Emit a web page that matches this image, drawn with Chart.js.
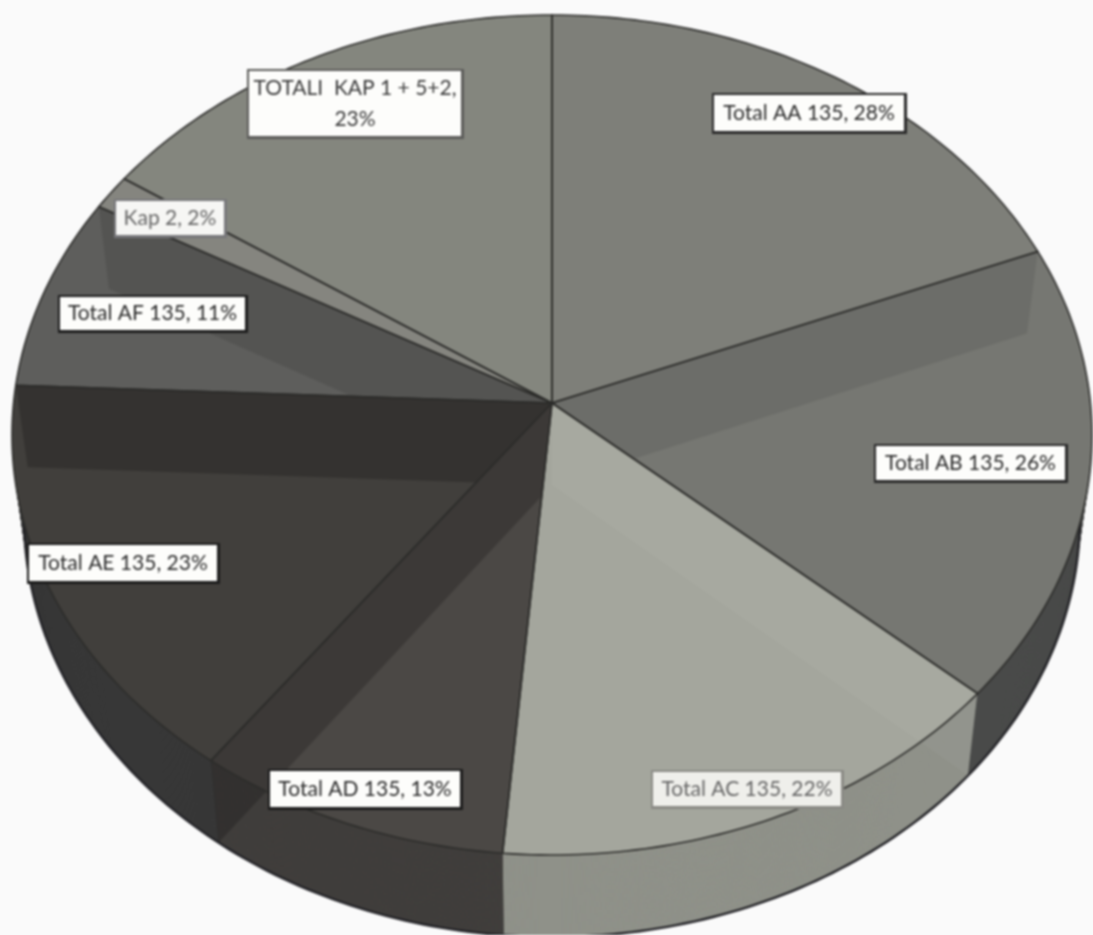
<!DOCTYPE html>
<html>
<head>
<meta charset="utf-8">
<title>Total</title>
<script src="https://cdn.jsdelivr.net/npm/chart.js@4"></script>
<style>
    html, body { margin: 0; padding: 0; background: #fafafa; overflow: hidden; }
    #pie { display: block; width: 1093px; height: 935px; filter: blur(0.8px); }
</style>
</head>
<body>
<canvas id="pie" width="1093" height="935"></canvas>
<script>
const categories = ['Total AA 135', 'Total AB 135', 'Total AC 135', 'Total AD 135', 'Total AE 135', 'Total AF 135', 'Kap 2', 'TOTALI  KAP 1 + 5+2'];
const percents = [28, 26, 22, 13, 23, 11, 2, 23];

const topColors = ['#7e7f79', '#767772', '#a4a69d', '#4b4845', '#413f3c', '#5e5e5c', '#85857f', '#84867e'];
const sideColors = ['#5a5a58', '#494a49', '#8f9189', '#403e3c', '#373737', '#444444', '#555555', '#5a5a58'];
// wall seen through the top face below each slice's end edge, and the slice it shows in
const wallShades = ['rgba(0,0,0,0.08)', 'rgba(255,255,255,0.035)', null, 'rgba(0,0,0,0.2)', 'rgba(0,0,0,0.2)', 'rgba(0,0,0,0.1)', null, null];
const wallSlices = [1, 2, null, 3, 4, 5, null, null];

// label boxes: left, top, right, bottom, text colour, border colour, fill
const labelBoxes = [
    [713, 94, 905, 132, '#2b2b2b', '#2a2a2a', '#fdfdfb'],
    [875, 445, 1066, 481, '#2b2b2b', '#2a2a2a', '#fdfdfb'],
    [652, 771, 842, 807, '#666666', '#8a8a85', '#efefeb'],
    [269, 770, 461, 808, '#2b2b2b', '#1c1c1c', '#fdfdfb'],
    [28, 544, 218, 582, '#2b2b2b', '#1c1c1c', '#fdfdfb'],
    [59, 296, 246, 331, '#2b2b2b', '#1c1c1c', '#fdfdfb'],
    [115, 200, 225, 236, '#666666', '#77777a', '#f6f6f4'],
    [248, 70, 462, 137, '#3a3a3a', '#5c5c5a', '#fdfdfb']
];

// tilted disc: ellipse of the top face and of the bottom face
const top3d = { cx: 552, cy: 435, rx: 540, ry: 420 };
const depth = 82;
const shrink = 12;
const apexShift = -32 / 420;

function project(angle, r, t) {
    let x = Math.cos(angle) * r;
    let y = Math.sin(angle) * r;
    let den = 1 + apexShift * y;
    let px = x * Math.sqrt(1 - apexShift * apexShift) / den;
    let py = (y + apexShift) / den;
    return [top3d.cx + (top3d.rx - shrink * t) * px, top3d.cy + depth * t + top3d.ry * py];
}

function traceArc(ctx, start, end, t, first) {
    let steps = Math.max(2, Math.ceil((end - start) * 60));
    for (let i = 0; i <= steps; i++) {
        let p = project(start + (end - start) * i / steps, 1, t);
        if (i === 0 && first) {
            ctx.moveTo(p[0], p[1]);
        } else {
            ctx.lineTo(p[0], p[1]);
        }
    }
}

function traceSlice(ctx, el, t) {
    let apex = project(0, 0, t);
    ctx.beginPath();
    ctx.moveTo(apex[0], apex[1]);
    traceArc(ctx, el.startAngle, el.endAngle, t, false);
    ctx.closePath();
}

function fillWall(ctx, angle) {
    let a = project(angle, 0, 0);
    let b = project(angle, 1, 0);
    let c = project(angle, 1, 1);
    let e = project(angle, 0, 1);
    ctx.beginPath();
    ctx.moveTo(a[0], a[1]);
    ctx.lineTo(b[0], b[1]);
    ctx.lineTo(c[0], c[1]);
    ctx.lineTo(e[0], e[1]);
    ctx.closePath();
    ctx.fill();
}

const pie3d = {
    id: 'pie3d',
    beforeDatasetsDraw(chart) {
        let ctx = chart.ctx;
        let arcs = chart.getDatasetMeta(0).data;
        ctx.save();

        // side of the disc, bottom layer first
        for (let d = depth; d > 0; d--) {
            arcs.forEach((el, i) => {
                ctx.fillStyle = sideColors[i];
                traceSlice(ctx, el, d / depth);
                ctx.fill();
            });
        }
        ctx.strokeStyle = '#222226';
        ctx.lineWidth = 2.4;
        ctx.beginPath();
        traceArc(ctx, 0, Math.PI * 2, 1, true);
        ctx.stroke();

        // top face
        arcs.forEach((el, i) => {
            ctx.fillStyle = topColors[i];
            traceSlice(ctx, el, 0);
            ctx.fill();
        });

        // inner walls show through the top face and over the side
        arcs.forEach((el, i) => {
            if (!wallShades[i]) {
                return;
            }
            ctx.fillStyle = wallShades[i];
            ctx.save();
            traceSlice(ctx, arcs[wallSlices[i]], 0);
            ctx.clip();
            fillWall(ctx, el.endAngle);
            ctx.restore();

            ctx.save();
            ctx.beginPath();
            ctx.rect(0, 0, chart.width, chart.height);
            traceArc(ctx, 0, Math.PI * 2, 0, true);
            ctx.clip('evenodd');
            fillWall(ctx, el.endAngle);
            ctx.restore();
        });

        ctx.strokeStyle = '#2c2c2a';
        ctx.lineWidth = 1.6;
        arcs.forEach((el) => {
            traceSlice(ctx, el, 0);
            ctx.stroke();
        });
        ctx.restore();
        return false;
    },
    afterDraw(chart) {
        let ctx = chart.ctx;
        ctx.save();
        ctx.font = '21px Lato';
        ctx.textAlign = 'center';
        ctx.textBaseline = 'middle';
        labelBoxes.forEach((box, i) => {
            let w = box[2] - box[0];
            let h = box[3] - box[1];
            ctx.fillStyle = box[5];
            ctx.fillRect(box[0] - 1, box[1] - 1, w + 3, h + 3);
            ctx.fillStyle = box[6];
            ctx.fillRect(box[0] + 1, box[1] + 1, w - 2, h - 2);
            ctx.fillStyle = box[4];
            let cx = (box[0] + box[2]) / 2;
            let cy = (box[1] + box[3]) / 2;
            if (w > 200) {
                ctx.fillText(categories[i] + ',', cx, cy - 15);
                ctx.fillText(percents[i] + '%', cx, cy + 16);
            } else {
                ctx.fillText(categories[i] + ', ' + percents[i] + '%', cx, cy);
            }
        });
        ctx.restore();
    }
};

new Chart(document.getElementById('pie'), {
    type: 'pie',
    data: {
        labels: categories,
        datasets: [{
            data: percents,
            backgroundColor: topColors,
            borderWidth: 0
        }]
    },
    options: {
        responsive: false,
        animation: false,
        plugins: {
            legend: { display: false },
            tooltip: { enabled: false }
        }
    },
    plugins: [pie3d]
});
</script>
</body>
</html>
